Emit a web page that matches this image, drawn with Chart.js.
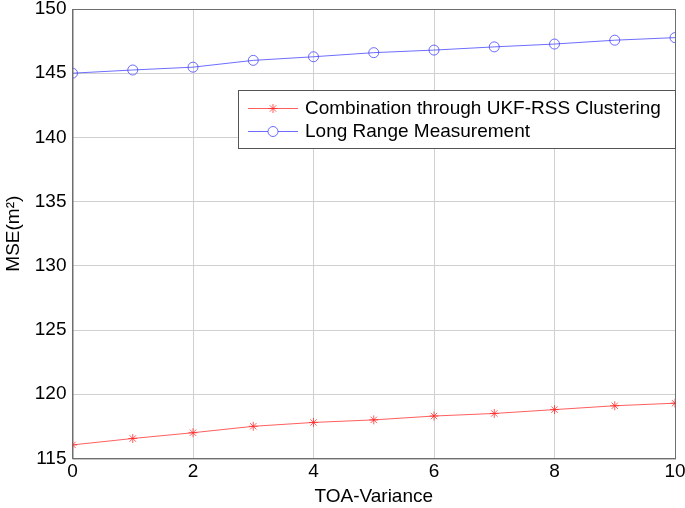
<!DOCTYPE html>
<html>
<head>
<meta charset="utf-8">
<script src="https://cdn.jsdelivr.net/npm/chart.js@4"></script>
<style>
  body { margin: 0; background: #fff; }
  #wrap { width: 685px; height: 508px; }
</style>
</head>
<body>
<div id="wrap"><canvas id="chart" width="685" height="508"></canvas></div>
<script>
// --- datos ---
const variance = [0, 1, 2, 3, 4, 5, 6, 7, 8, 9, 10];
const ukfRss = [116.05, 116.55, 117.0, 117.5, 117.8, 118.0, 118.3, 118.5, 118.8, 119.1, 119.3];
const longRange = [145.0, 145.25, 145.47, 146.0, 146.28, 146.6, 146.8, 147.05, 147.27, 147.57, 147.77];
const seriesNames = ["Combination through UKF-RSS Clustering", "Long Range Measurement"];
const xTicks = [0, 2, 4, 6, 8, 10];
const yTicks = [115, 120, 125, 130, 135, 140, 145, 150];

const FONT = "'Liberation Sans', Arial, Helvetica, sans-serif";

// caja del eje (arriba y derecha) + leyenda dentro del área
const boxLegend = {
    id: "boxLegend",
    afterDraw(chart) {
        const { ctx, chartArea: a } = chart;
        ctx.save();
        ctx.strokeStyle = "#6e6e6e";
        ctx.lineWidth = 1;
        ctx.strokeRect(a.left + 0.5, a.top + 0.5, a.right - a.left, a.bottom - a.top);

        // leyenda
        const x0 = 238.5, y0 = 90.5, x1 = a.right + 0.5, y1 = 148.5;
        ctx.fillStyle = "#fff";
        ctx.fillRect(x0, y0, x1 - x0, y1 - y0);
        ctx.strokeStyle = "#555";
        ctx.strokeRect(x0, y0, x1 - x0, y1 - y0);
        const rows = [108, 131];
        chart.data.datasets.forEach((ds, i) => {
            const y = rows[i];
            ctx.strokeStyle = ds.borderColor;
            ctx.lineWidth = 1;
            ctx.beginPath();
            ctx.moveTo(248, y + 0.5);
            ctx.lineTo(298, y + 0.5);
            ctx.stroke();
            ctx.fillStyle = "#fff";
            Chart.helpers.drawPoint(ctx, {
                pointStyle: ds.pointStyle,
                radius: ds.pointRadius,
                borderWidth: 1
            }, 273, y + 0.5);
            ctx.fillStyle = "#000";
            ctx.font = "19px " + FONT;
            ctx.textBaseline = "middle";
            ctx.fillText(ds.label, 305, y + 1);
        });
        ctx.restore();
    }
};

const ctx = document.getElementById("chart").getContext("2d");
new Chart(ctx, {
    type: "line",
    data: {
        datasets: [
            {
                label: seriesNames[0],
                data: variance.map((v, i) => ({ x: v, y: ukfRss[i] })),
                borderColor: "rgba(255, 40, 40, 0.75)",
                pointBorderColor: "rgba(255, 40, 40, 0.75)",
                backgroundColor: "transparent",
                pointStyle: "star",
                pointRadius: 4.5,
                borderWidth: 1,
                pointBorderWidth: 1,
                tension: 0
            },
            {
                label: seriesNames[1],
                data: variance.map((v, i) => ({ x: v, y: longRange[i] })),
                borderColor: "rgba(60, 60, 255, 0.75)",
                pointBorderColor: "rgba(60, 60, 255, 0.75)",
                backgroundColor: "transparent",
                pointBackgroundColor: "transparent",
                pointStyle: "circle",
                pointRadius: 5,
                borderWidth: 1,
                pointBorderWidth: 1,
                tension: 0
            }
        ]
    },
    options: {
        responsive: false,
        animation: false,
        layout: { padding: { left: 2, right: 10, top: 9, bottom: 0 } },
        plugins: {
            legend: { display: false },
            tooltip: { enabled: false }
        },
        scales: {
            x: {
                type: "linear",
                min: 0,
                max: 10,
                afterBuildTicks: s => { s.ticks = xTicks.map(v => ({ value: v })); },
                afterFit: s => { s.paddingRight = 0; s.paddingLeft = 0; },
                grid: { color: "#d0d0d0", tickLength: 0, drawTicks: false },
                border: { color: "#6e6e6e" },
                ticks: { color: "#000", font: { family: FONT, size: 19 }, padding: 2, maxRotation: 0 },
                title: { display: true, text: "TOA-Variance", color: "#000", font: { family: FONT, size: 19 }, padding: { top: 0, bottom: 0 } }
            },
            y: {
                min: 115,
                max: 150,
                afterBuildTicks: s => { s.ticks = yTicks.map(v => ({ value: v })); },
                afterFit: s => { s.paddingTop = 0; s.paddingBottom = 0; },
                grid: { color: "#d0d0d0", drawTicks: false },
                border: { color: "#6e6e6e" },
                ticks: { color: "#000", font: { family: FONT, size: 19 }, padding: 6 },
                title: { display: true, text: "MSE(m²)", color: "#000", font: { family: FONT, size: 19 }, padding: { top: 0, bottom: 4 } }
            }
        }
    },
    plugins: [boxLegend]
});
</script>
</body>
</html>
